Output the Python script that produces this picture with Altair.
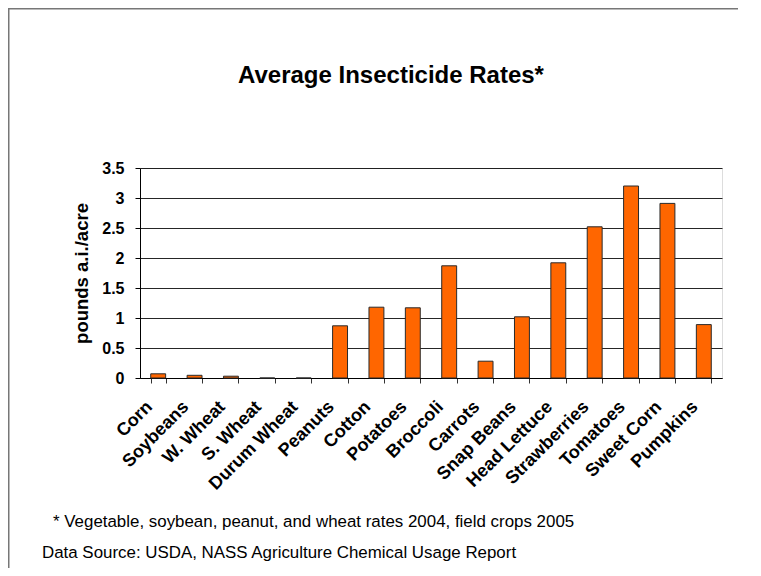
import altair as alt
import pandas as pd

crops = ["Corn", "Soybeans", "W. Wheat", "S. Wheat", "Durum Wheat", "Peanuts",
         "Cotton", "Potatoes", "Broccoli", "Carrots", "Snap Beans", "Head Lettuce",
         "Strawberries", "Tomatoes", "Sweet Corn", "Pumpkins"]
rates = [0.07, 0.045, 0.03, 0.0, 0.0, 0.87,
         1.18, 1.17, 1.87, 0.28, 1.02, 1.92,
         2.52, 3.2, 2.91, 0.89]
y_ticks = [0, 0.5, 1, 1.5, 2, 2.5, 3, 3.5]
title_text = "Average Insecticide Rates*"
y_title = "pounds a.i./acre"
note1 = "* Vegetable, soybean, peanut, and wheat rates 2004, field crops 2005"
note2 = "Data Source: USDA, NASS Agriculture Chemical Usage Report"

FONT = "Liberation Sans, Arial, Helvetica, sans-serif"

df = pd.DataFrame({"crop": crops, "rate": rates})
one = pd.DataFrame({"k": [0]})

frame_top = alt.Chart(one).mark_rect(color="#777777", strokeWidth=0).encode(
    x=alt.value(-132), x2=alt.value(598), y=alt.value(-160), y2=alt.value(-158.5)
)
frame_left = alt.Chart(one).mark_rect(color="#777777", strokeWidth=0).encode(
    x=alt.value(-132), x2=alt.value(-130.5), y=alt.value(-160), y2=alt.value(400)
)

bars = alt.Chart(df).mark_bar(
    color="#FF6600", stroke="#2a2a2a", strokeWidth=1
).encode(
    x=alt.X("crop:N", sort=crops,
            scale=alt.Scale(paddingInner=0.59, paddingOuter=0.295),
            axis=alt.Axis(title=None, labelAngle=-45, labelAlign="right",
                          labelBaseline="middle", labelFont=FONT, labelFontSize=18,
                          labelFontWeight="bold", labelColor="black", labelPadding=21,
                          labelOffset=-9,
                          domainColor="black", tickColor="#333333", tickSize=5,
                          tickBand="extent", labelOverlap=False, grid=False)),
    y=alt.Y("rate:Q",
            scale=alt.Scale(domain=[0, 3.5], nice=False),
            axis=alt.Axis(title=y_title, values=y_ticks, format="~g",
                          labelFont=FONT, labelFontSize=16, labelFontWeight="bold",
                          labelColor="black", labelPadding=11,
                          titleFont=FONT, titleFontSize=18.5, titleFontWeight="bold",
                          titleColor="black", titleX=-59, titleY=105,
                          titleAngle=-90, titleAlign="center", titleBaseline="middle",
                          domainColor="black", tickColor="black", tickSize=5,
                          grid=True, gridColor="black", gridWidth=1,
                          gridOpacity=0.85))
)

n1 = alt.Chart(pd.DataFrame({"t": [note1]})).mark_text(
    align="left", baseline="alphabetic", font=FONT, fontSize=16.9, color="black"
).encode(text="t:N", x=alt.value(-87), y=alt.value(359))

n2 = alt.Chart(pd.DataFrame({"t": [note2]})).mark_text(
    align="left", baseline="alphabetic", font=FONT, fontSize=16.9, color="black"
).encode(text="t:N", x=alt.value(-98), y=alt.value(390))

chart = alt.layer(frame_top, frame_left, bars, n1, n2).properties(
    width=582, height=210,
    padding={"left": 132, "top": 160, "right": 31, "bottom": 190},
    autosize=alt.AutoSizeParams(type="none"),
    title=alt.TitleParams(title_text, font=FONT, fontSize=24, fontWeight="bold",
                          color="black", anchor="middle", dx=-40, offset=-99,
                          baseline="alphabetic")
).configure_view(stroke="#888888", strokeWidth=1).configure(background="white")

chart.save("out.html", embed_options={"renderer": "svg", "actions": False})
